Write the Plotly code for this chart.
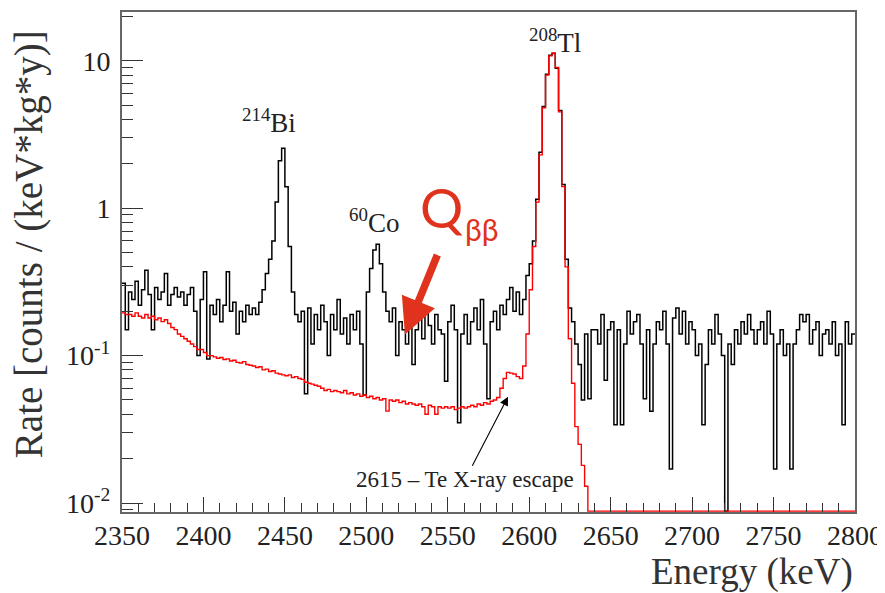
import numpy as np
import plotly.graph_objects as go

# ---------------- data (2 keV bins, 2350-2800 keV) ----------------
bin_width = 2
e_start, e_stop = 2350, 2800

# measured spectrum (black)
data_rate = [
    # 2350
    0.31, 0.15, 0.27, 0.24, 0.32, 0.22, 0.28, 0.38, 0.26, 0.15,
    # 2370
    0.29, 0.24, 0.27, 0.36, 0.22, 0.26, 0.29, 0.25, 0.27, 0.22,
    # 2390
    0.26, 0.29, 0.20, 0.10, 0.24, 0.37, 0.095, 0.22, 0.19, 0.24,
    # 2410
    0.17, 0.22, 0.37, 0.20, 0.23, 0.14, 0.20, 0.17, 0.22, 0.19,
    # 2430
    0.21, 0.19, 0.23, 0.28, 0.36, 0.45, 0.60, 1.10, 2.10, 2.55,
    # 2450
    1.40, 0.55, 0.27, 0.19, 0.17, 0.20, 0.055, 0.21, 0.12, 0.19,
    # 2470
    0.15, 0.22, 0.17, 0.10, 0.19, 0.15, 0.24, 0.14, 0.18, 0.12,
    # 2490
    0.19, 0.15, 0.20, 0.12, 0.054, 0.27, 0.39, 0.52, 0.57, 0.42,
    # 2510
    0.27, 0.20, 0.17, 0.21, 0.10, 0.17, 0.15, 0.12, 0.19, 0.087,
    # 2530
    0.15, 0.18, 0.13, 0.21, 0.16, 0.12, 0.19, 0.15, 0.14, 0.067,
    # 2550
    0.17, 0.22, 0.15, 0.035, 0.14, 0.19, 0.12, 0.17, 0.21, 0.15,
    # 2570
    0.24, 0.12, 0.051, 0.17, 0.20, 0.15, 0.22, 0.19, 0.24, 0.29,
    # 2590
    0.20, 0.27, 0.19, 0.24, 0.35, 0.42, 0.60, 1.15, 2.40, 4.90,
    # 2610
    8.10, 10.9, 11.2, 8.90, 4.60, 1.45, 0.45, 0.21, 0.17, 0.12,
    # 2630
    0.087, 0.05, 0.14, 0.051, 0.15, 0.15, 0.12, 0.19, 0.068, 0.15,
    # 2650
    0.17, 0.034, 0.15, 0.034, 0.12, 0.20, 0.14, 0.17, 0.19, 0.12,
    # 2670
    0.051, 0.15, 0.042, 0.12, 0.17, 0.15, 0.20, 0.12, 0.017, 0.18,
    # 2690
    0.21, 0.14, 0.20, 0.12, 0.17, 0.15, 0.10, 0.12, 0.034, 0.087,
    # 2710
    0.15, 0.12, 0.19, 0.14, 0.10, 0.0, 0.12, 0.087, 0.15, 0.12,
    # 2730
    0.17, 0.14, 0.19, 0.15, 0.12, 0.15, 0.17, 0.12, 0.20, 0.14,
    # 2750
    0.017, 0.12, 0.15, 0.10, 0.12, 0.017, 0.12, 0.15, 0.19, 0.17,
    # 2770
    0.19, 0.12, 0.15, 0.17, 0.10, 0.14, 0.15, 0.12, 0.17, 0.10,
    # 2790
    0.12, 0.034, 0.17, 0.12, 0.14,
]

# 208Tl calibration spectrum (red, normalised)
calib_rate = [
    # 2350
    0.195, 0.19, 0.19, 0.185, 0.195, 0.185, 0.18, 0.19, 0.18, 0.185,
    # 2370
    0.175, 0.18, 0.17, 0.175, 0.165, 0.155, 0.15, 0.14, 0.135, 0.13,
    # 2390
    0.125, 0.12, 0.115, 0.11, 0.11, 0.105, 0.10, 0.10, 0.098, 0.096,
    # 2410
    0.097, 0.094, 0.095, 0.092, 0.093, 0.09, 0.089, 0.091, 0.087, 0.086,
    # 2430
    0.085, 0.083, 0.084, 0.08, 0.081, 0.078, 0.079, 0.076, 0.075, 0.074,
    # 2450
    0.073, 0.074, 0.071, 0.072, 0.07, 0.069, 0.066, 0.065, 0.064, 0.063,
    # 2470
    0.062, 0.06, 0.058, 0.059, 0.057, 0.058, 0.057, 0.056, 0.058, 0.055,
    # 2490
    0.056, 0.054, 0.055, 0.053, 0.054, 0.052, 0.053, 0.051, 0.052, 0.05,
    # 2510
    0.051, 0.042, 0.05, 0.049, 0.05, 0.048, 0.049, 0.047, 0.048, 0.047,
    # 2530
    0.046, 0.047, 0.045, 0.04, 0.046, 0.045, 0.04, 0.045, 0.044, 0.045,
    # 2550
    0.044, 0.045, 0.043, 0.044, 0.045, 0.044, 0.045, 0.046, 0.045, 0.047,
    # 2570
    0.046, 0.048, 0.047, 0.049, 0.05, 0.052, 0.06, 0.07, 0.077, 0.076,
    # 2590
    0.075, 0.072, 0.07, 0.085, 0.14, 0.28, 0.55, 1.1, 2.3, 4.8,
    # 2610
    8.0, 10.8, 11.3, 9.0, 4.5, 1.4, 0.4, 0.13, 0.065, 0.033,
    # 2630
    0.025, 0.018, 0.013,
] + [0.0] * 82

y_log_range = [-2.061, 1.331]
y_tick_vals = [0.01, 0.1, 1, 10]
y_tick_text = ["10<sup>-2</sup>", "10<sup>-1</sup>", "1", "10"]

# ---------------- figure ----------------
edges = np.arange(e_start, e_stop + bin_width, bin_width)
floor = 10 ** (y_log_range[0] + 0.006)  # empty bins drawn on the frame, as ROOT does


def step_y(vals):
    v = np.maximum(np.array(vals, dtype=float), floor)
    return np.append(v, v[-1])


fig = go.Figure()
fig.add_trace(go.Scatter(x=edges, y=step_y(data_rate), mode="lines",
                         line=dict(color="black", width=1.5, shape="hv"),
                         showlegend=False))
fig.add_trace(go.Scatter(x=edges, y=step_y(calib_rate), mode="lines",
                         line=dict(color="#ff0000", width=1.4, shape="hv"),
                         showlegend=False))

serif = "Liberation Serif"
frame = "#666666"

minor_y = [k * 10 ** n for n in (-3, -2, -1, 0, 1) for k in range(2, 10)]
minor_y = [v for v in minor_y if 10 ** y_log_range[0] < v < 10 ** y_log_range[1]]

fig.update_xaxes(range=[e_start, e_stop], tick0=2350, dtick=50, automargin=False,
                 ticks="inside", ticklen=15, tickwidth=1.3, tickcolor="#333333",
                 minor=dict(ticks="inside", ticklen=9, dtick=10, tickwidth=1.3,
                            tickcolor="#333333"),
                 showline=True, linecolor=frame, linewidth=2, mirror=True,
                 showgrid=False, zeroline=False, ticklabelstandoff=-3,
                 tickfont=dict(family=serif, size=28, color="#222222"))
fig.update_yaxes(type="log", range=y_log_range, tickmode="array", automargin=False,
                 tickvals=y_tick_vals, ticktext=y_tick_text,
                 ticks="inside", ticklen=21, tickwidth=1.3, tickcolor="#333333",
                 minor=dict(ticks="inside", ticklen=11, tickmode="array",
                            tickvals=minor_y, tickwidth=1.3, tickcolor="#333333"),
                 showline=True, linecolor=frame, linewidth=2, mirror=True,
                 showgrid=False, zeroline=False, ticklabelstandoff=4,
                 tickfont=dict(family=serif, size=28, color="#222222"))

ann = []
# axis titles
ann.append(dict(text="Rate [counts / (keV*kg*y)]", xref="paper", yref="paper",
                x=-0.126, y=0.535, textangle=-90, showarrow=False,
                font=dict(family=serif, size=39, color="#333333"),
                xanchor="center", yanchor="middle"))
ann.append(dict(text="Energy (keV)", xref="paper", yref="paper",
                x=1.0, y=-0.12, showarrow=False, xanchor="right", yanchor="middle",
                font=dict(family=serif, size=37, color="#333333")))
# peak labels
lab_font = dict(family=serif, size=27, color="#222222")
ann.append(dict(text="<sup>214</sup>Bi", x=2440, y=np.log10(3.9), showarrow=False, font=lab_font))
ann.append(dict(text="<sup>60</sup>Co", x=2505, y=np.log10(0.82), showarrow=False, font=lab_font))
ann.append(dict(text="<sup>208</sup>Tl", x=2616, y=np.log10(13.7), showarrow=False, font=lab_font))
# Q_bb
red = "#e0321c"
ann.append(dict(text="Q", x=2546, y=np.log10(1.01), showarrow=False,
                font=dict(family="Lato", size=54, color=red)))
ann.append(dict(text="ββ", x=2571, y=np.log10(0.72), showarrow=False,
                font=dict(family="Lato", size=30, color=red)))
ann.append(dict(text="", x=2523.7, y=-0.857, ax=33, ay=-81, showarrow=True,
                arrowhead=2, arrowsize=0.95, arrowwidth=7.5, arrowcolor=red))
# escape peak annotation
ann.append(dict(text="2615 – Te X-ray escape", x=2587, y=-1.279, ax=-43, ay=83,
                showarrow=True, arrowhead=2, arrowsize=1.6, arrowwidth=1.1,
                arrowcolor="black", font=dict(family=serif, size=23, color="#222222")))

# the page adds an 8 px body margin, so the figure is drawn 8 px smaller
fig.update_layout(width=877, height=585,
                  margin=dict(l=114, r=30, t=4, b=81),
                  paper_bgcolor="white", plot_bgcolor="white",
                  annotations=ann)

fig.write_html("out.html")
